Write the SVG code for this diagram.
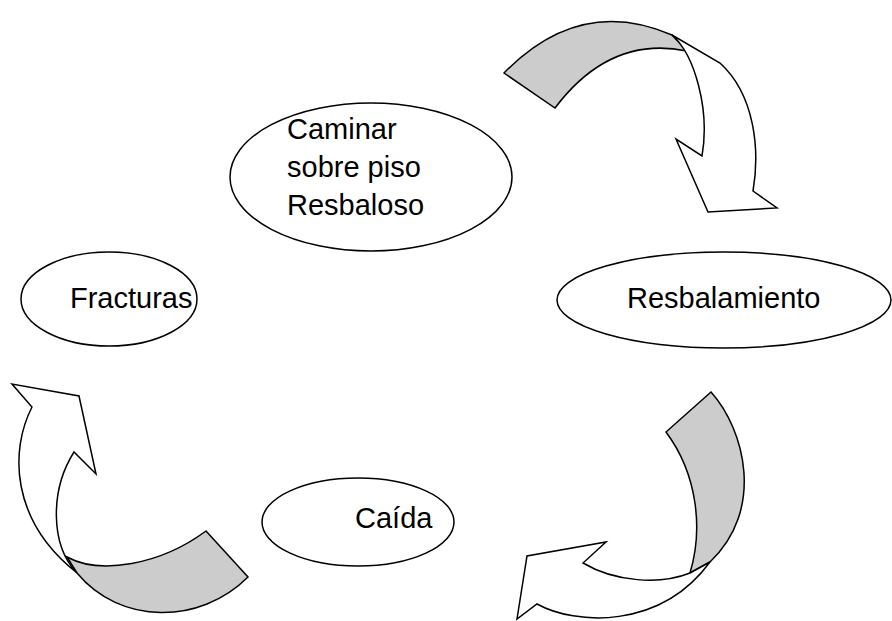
<svg xmlns="http://www.w3.org/2000/svg" width="892" height="621" viewBox="0 0 892 621">
<style>
.n{fill:#fff;stroke:#000;stroke-width:1.5}
.g{fill:#ccc;stroke:#000;stroke-width:1.5;stroke-linejoin:miter}
.w{fill:#fff;stroke:#000;stroke-width:1.5;stroke-linejoin:miter}
text{font-family:"Liberation Sans",Arial,sans-serif;font-size:29px;fill:#000}
</style>
<rect width="892" height="621" fill="#fff"/>
<g id="connectors">
<g id="arrow-top">
<path class="g" d="M504,73 Q580,-5 672,35 L687,51 Q610,35 555,108 Z"/>
<path class="w" d="M672,35 C695,55 710,110 702,156 L676,139 L708,212 L777,208 L753,191 C760,150 755,95 720,63 Z"/>
</g>
<g id="arrow-right">
<path class="g" d="M711,392 C745,430 765,510 710,562 L690,573 C703,530 698,475 666,432 Z"/>
<path class="w" d="M690,573 C660,585 615,582 583,563 L606,542 L527,556 L517,619 L537,604 C575,625 660,630 710,562 Z"/>
</g>
<g id="arrow-left">
<path class="g" d="M206,531 L248,577 C200,625 120,625 77,573 L67,557 C100,575 160,565 206,531 Z"/>
<path class="w" d="M77,573 C50,545 50,490 74,452 L96,474 L79,396 L12,384 L32,407 C10,450 10,520 77,573 Z"/>
</g>
</g>
<g id="node-caminar">
<ellipse class="n" cx="371" cy="177" rx="141" ry="74"/>
<text x="287" y="139">Caminar</text>
<text x="287" y="177">sobre piso</text>
<text x="287" y="215">Resbaloso</text>
</g>
<g id="node-fracturas">
<ellipse class="n" cx="109" cy="299" rx="88" ry="47"/>
<text x="70" y="308">Fracturas</text>
</g>
<g id="node-resbalamiento">
<ellipse class="n" cx="724" cy="300" rx="167" ry="48"/>
<text x="627" y="308">Resbalamiento</text>
</g>
<g id="node-caida">
<ellipse class="n" cx="358" cy="522" rx="96" ry="44"/>
<text x="355" y="528">Caída</text>
</g>
</svg>
